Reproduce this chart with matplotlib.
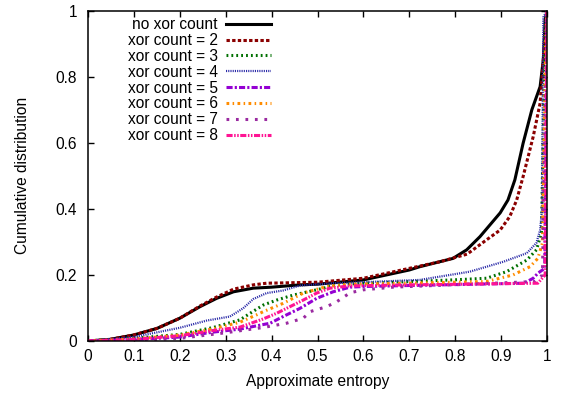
import matplotlib
matplotlib.use("Agg")
import matplotlib.pyplot as plt

plt.rcParams['font.family'] = ['Liberation Sans', 'DejaVu Sans']

labels = ["no xor count", "xor count = 2", "xor count = 3", "xor count = 4",
          "xor count = 5", "xor count = 6", "xor count = 7", "xor count = 8"]

x_nox = [0, 0.048, 0.099, 0.15, 0.20, 0.244, 0.28, 0.317, 0.36, 0.40, 0.462, 0.5, 0.6, 0.7,
         0.723, 0.795, 0.825, 0.854, 0.876, 0.898, 0.915, 0.930, 0.948, 0.967, 0.985, 0.992, 0.996, 1.0]
y_nox = [0, 0.005, 0.018, 0.038, 0.069, 0.104, 0.129, 0.149, 0.16, 0.163, 0.17, 0.172, 0.185, 0.215,
         0.225, 0.25, 0.276, 0.316, 0.352, 0.388, 0.427, 0.488, 0.599, 0.70, 0.77, 0.852, 0.973, 1.0]

x_2 = [0, 0.048, 0.099, 0.15, 0.20, 0.244, 0.28, 0.317, 0.36, 0.389, 0.462, 0.5, 0.6, 0.7,
       0.767, 0.826, 0.868, 0.898, 0.919, 0.934, 0.948, 0.970, 0.985, 0.992, 0.996, 1.0]
y_2 = [0, 0.005, 0.018, 0.038, 0.069, 0.106, 0.133, 0.157, 0.17, 0.175, 0.177, 0.178, 0.19, 0.22,
       0.24, 0.263, 0.306, 0.336, 0.377, 0.427, 0.498, 0.619, 0.72, 0.852, 0.94, 1.0]

x_3 = [0, 0.099, 0.20, 0.273, 0.331, 0.36, 0.382, 0.411, 0.447, 0.498, 0.542, 0.6, 0.7,
       0.795, 0.868, 0.912, 0.956, 0.977, 0.988, 0.995, 1.0]
y_3 = [0, 0.008, 0.02, 0.041, 0.064, 0.09, 0.109, 0.124, 0.139, 0.155, 0.17, 0.175, 0.18,
       0.185, 0.19, 0.21, 0.245, 0.276, 0.327, 0.9, 1.0]

x_4 = [0, 0.099, 0.20, 0.259, 0.309, 0.338, 0.36, 0.389, 0.425, 0.462, 0.534, 0.6, 0.723,
       0.832, 0.905, 0.956, 0.977, 0.985, 0.989, 0.992, 1.0]
y_4 = [0, 0.012, 0.04, 0.062, 0.074, 0.099, 0.127, 0.145, 0.153, 0.168, 0.175, 0.178, 0.185,
       0.21, 0.24, 0.266, 0.297, 0.336, 0.397, 0.98, 1.0]

x_5 = [0, 0.1, 0.2, 0.273, 0.331, 0.397, 0.425, 0.462, 0.498, 0.534, 0.571, 0.6, 0.7,
       0.95, 0.97, 0.98, 0.995, 1.0]
y_5 = [0, 0.004, 0.012, 0.027, 0.036, 0.054, 0.074, 0.099, 0.129, 0.149, 0.163, 0.165, 0.168,
       0.175, 0.19, 0.205, 0.22, 1.0]

x_6 = [0, 0.1, 0.2, 0.273, 0.331, 0.367, 0.382, 0.425, 0.469, 0.52, 0.571, 0.7,
       0.868, 0.926, 0.963, 0.98, 0.99, 0.997, 1.0]
y_6 = [0, 0.006, 0.018, 0.037, 0.057, 0.079, 0.089, 0.114, 0.145, 0.165, 0.172, 0.175,
       0.18, 0.2, 0.225, 0.25, 0.296, 0.9, 1.0]

x_7 = [0, 0.1, 0.2, 0.3, 0.382, 0.433, 0.469, 0.484, 0.52, 0.542, 0.571, 0.6, 0.665, 0.7,
       0.974, 0.99, 1.0]
y_7 = [0, 0.002, 0.008, 0.025, 0.041, 0.054, 0.069, 0.089, 0.104, 0.119, 0.146, 0.155, 0.163, 0.165,
       0.18, 0.2, 1.0]

x_8 = [0, 0.1, 0.2, 0.273, 0.331, 0.382, 0.411, 0.44, 0.469, 0.498, 0.527, 0.571, 0.7,
       0.98, 0.996, 1.0]
y_8 = [0, 0.005, 0.016, 0.032, 0.042, 0.067, 0.084, 0.104, 0.124, 0.145, 0.16, 0.167, 0.17,
       0.175, 0.2, 1.0]

xs = [x_nox, x_2, x_3, x_4, x_5, x_6, x_7, x_8]
ys = [y_nox, y_2, y_3, y_4, y_5, y_6, y_7, y_8]

colors = ["#000000", "#8b0000", "#007000", "#2a2aa8", "#9400d3", "#ff8c00", "#9a2aa0", "#ff1493"]
styles = [
    dict(linestyle="-", lw=2.2),
    dict(linestyle=(0, (1.1, 0.75)), lw=2.2),
    dict(linestyle=(0, (0.6, 1.0)), lw=2.2),
    dict(linestyle=(0, (0.5, 0.5)), lw=1.6),
    dict(linestyle=(0, (2.0, 0.7, 0.7, 0.7)), lw=2.2),
    dict(linestyle=(0, (0.9, 1.1, 0.5, 1.1)), lw=2.2),
    dict(linestyle=(0, (0.9, 2.2)), lw=2.2),
    dict(linestyle=(0, (2.0, 0.5, 0.5, 0.5, 0.5, 0.5)), lw=2.2),
]

fig = plt.figure(figsize=(5.62, 3.94), dpi=100)
ax = fig.add_axes([0.1566, 0.1345, 0.9733 - 0.1566, 0.9728 - 0.1345])

for x, y, c, st, lab in zip(xs, ys, colors, styles, labels):
    ax.plot(x, y, color=c, label=lab, **st)

ax.set_xlim(0, 1)
ax.set_ylim(0, 1)
xt = [0, 0.1, 0.2, 0.3, 0.4, 0.5, 0.6, 0.7, 0.8, 0.9, 1]
yt = [0, 0.2, 0.4, 0.6, 0.8, 1]
ax.set_xticks(xt)
ax.set_xticklabels(["0", "0.1", "0.2", "0.3", "0.4", "0.5", "0.6", "0.7", "0.8", "0.9", "1"])
ax.set_yticks(yt)
ax.set_yticklabels(["0", "0.2", "0.4", "0.6", "0.8", "1"])
ax.tick_params(direction="in", length=4, width=1, top=True, right=True, labelsize=11.2, pad=6, colors="black")
ax.tick_params(axis="y", pad=8)
for s in ax.spines.values():
    s.set_linewidth(1.1)

ax.set_xlabel("Approximate entropy", fontsize=11.2, labelpad=7)
ax.set_ylabel("Cumulative distribution", fontsize=11.2, labelpad=18)

leg = ax.legend(loc="upper right", bbox_to_anchor=(0.405, 0.99), frameon=False,
                markerfirst=False, fontsize=11.2, handlelength=2.85, handletextpad=0.55,
                labelspacing=0.055, borderpad=0.2, borderaxespad=0)

fig.savefig("out.png", dpi=100)
